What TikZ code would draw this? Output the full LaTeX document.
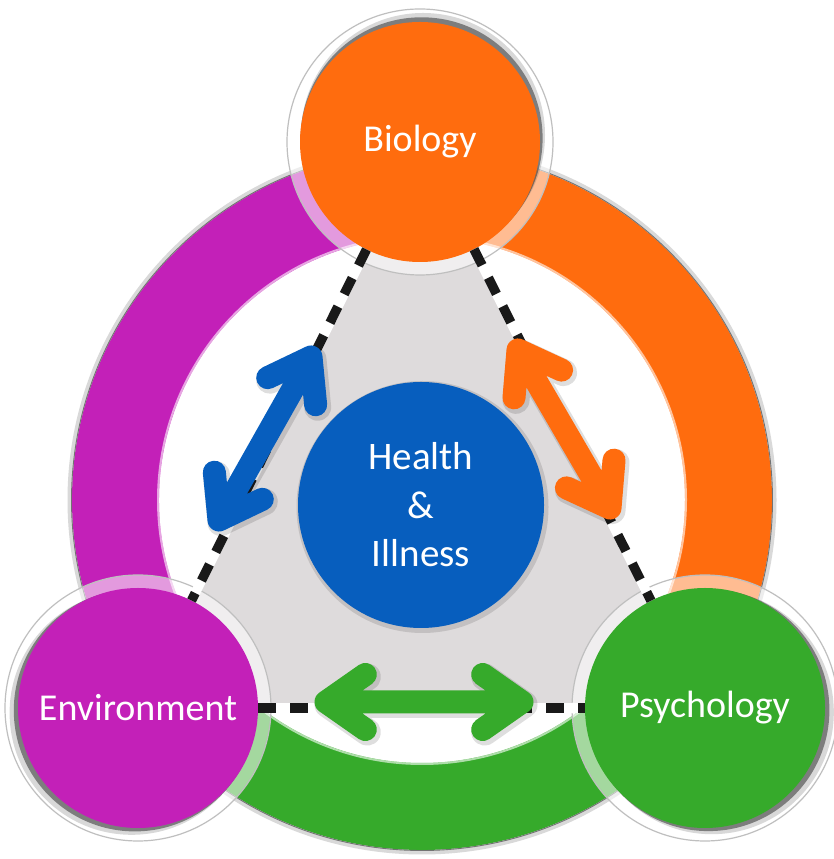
\documentclass[tikz,border=0pt]{standalone}
\usepackage{fontspec}
\setmainfont{Carlito}
\usetikzlibrary{calc}
\definecolor{bioO}{HTML}{FF6C0E}
\definecolor{envP}{HTML}{C320B8}
\definecolor{psyG}{HTML}{36AA2B}
\definecolor{hBlue}{HTML}{075EBE}
\definecolor{triG}{HTML}{DEDBDC}
\newcommand{\mydblarrow}[3]{%
  \draw[#1] (#2) -- (#3)
    ($(#2)!48pt!35:(#3)$) -- (#2) -- ($(#2)!48pt!-35:(#3)$)
    ($(#3)!48pt!35:(#2)$) -- (#3) -- ($(#3)!48pt!-35:(#2)$);%
}
\begin{document}
\begin{tikzpicture}[x=1pt,y=1pt,
  bigdisc/.style={circle, minimum size=240pt, inner sep=0pt, outer sep=0pt, text=white, font=\fontsize{38}{46}\selectfont},
  rim/.style={draw=gray!50, line width=1.2pt, fill=white, fill opacity=0.55},
  rimshadow/.style={fill=black!80, opacity=0.55},
  rimsoft/.style={fill=black!60, opacity=0.25},
  dashbase/.style={white, line width=9.5pt},
  dashtop/.style={black!90, line width=9.5pt, dash pattern=on 18pt off 14pt},
  arrowbody/.style={line width=23pt, line cap=round, line join=round},
  arrowshade/.style={line width=27pt, line cap=round, line join=round, draw=black, draw opacity=0.13, transform canvas={xshift=2pt,yshift=-2.5pt}},
]
\fill[white] (0,0) rectangle (833,859);
\useasboundingbox (0,0) rectangle (833,859);
\coordinate (O) at (422,359);
\coordinate (bioC) at (420,717);
\coordinate (envC) at (138,151);
\coordinate (psyC) at (705,151);
\coordinate (hC) at (421,354);
% gray triangle
\fill[triG] (bioC) -- (envC) -- (psyC) -- cycle;
% ring
\draw[black!15, line width=5pt] (O) circle (352);
\fill[envP] ($(O)+(90:350)$) arc[start angle=90,end angle=216,radius=350]
  -- ($(O)+(216:263)$) arc[start angle=216,end angle=90,radius=263] -- cycle;
\fill[psyG] ($(O)+(216:350)$) arc[start angle=216,end angle=324,radius=350]
  -- ($(O)+(324:263)$) arc[start angle=324,end angle=216,radius=263] -- cycle;
\fill[bioO] ($(O)+(324:350)$) arc[start angle=324,end angle=450,radius=350]
  -- ($(O)+(450:263)$) arc[start angle=450,end angle=324,radius=263] -- cycle;
\draw[black!55, line width=0.9pt] (O) circle (350.5);
\draw[white, opacity=0.6, line width=2pt] (O) circle (264);
% rims and discs
\path[rim] (bioC) circle (133);
\fill[rimsoft] ($(bioC)+(3,7)$) circle (122);
\fill[rimshadow] ($(bioC)+(1.6,3.7)$) circle (121);
\node[bigdisc, fill=bioO] (bio) at (bioC) {Biology};
\path[rim] (envC) circle (133);
\fill[rimsoft] ($(envC)+(-6.4,-4.8)$) circle (122);
\fill[rimshadow] ($(envC)+(-3.2,-2.4)$) circle (121);
\node[bigdisc, fill=envP] (env) at (envC) {Environment};
\path[rim] (psyC) circle (133);
\fill[rimsoft] ($(psyC)+(6.8,-4.2)$) circle (122);
\fill[rimshadow] ($(psyC)+(3.4,-2.1)$) circle (121);
\node[bigdisc, fill=psyG] (psy) at (psyC) {Psychology};
% dashed connectors
\draw[dashbase] (bio) -- (env);
\draw[dashbase] (bio) -- (psy);
\draw[dashbase] (env) -- (psy);
\draw[dashtop] (bio) -- (env);
\draw[dashtop] (bio) -- (psy);
\draw[dashtop] (env) -- (psy);
% centre
\fill[black, opacity=0.12] ($(hC)+(1.5,-2)$) circle (126);
\node[circle, minimum size=246pt, inner sep=0pt, fill=hBlue, text=white, align=center,
  font=\fontsize{39}{48.5}\selectfont] (hi) at (hC) {Health\\\&\\Illness};
% arrows
\coordinate (b1) at (311,502);
\coordinate (b2) at (219,339);
\coordinate (o1) at (518,509);
\coordinate (o2) at (610,351);
\coordinate (g1) at (326,157);
\coordinate (g2) at (522,157);
\mydblarrow{arrowshade}{b1}{b2}
\mydblarrow{arrowshade}{o1}{o2}
\mydblarrow{arrowshade}{g1}{g2}
\mydblarrow{arrowbody, draw=hBlue}{b1}{b2}
\mydblarrow{arrowbody, draw=bioO}{o1}{o2}
\mydblarrow{arrowbody, draw=psyG}{g1}{g2}
\end{tikzpicture}
\end{document}
